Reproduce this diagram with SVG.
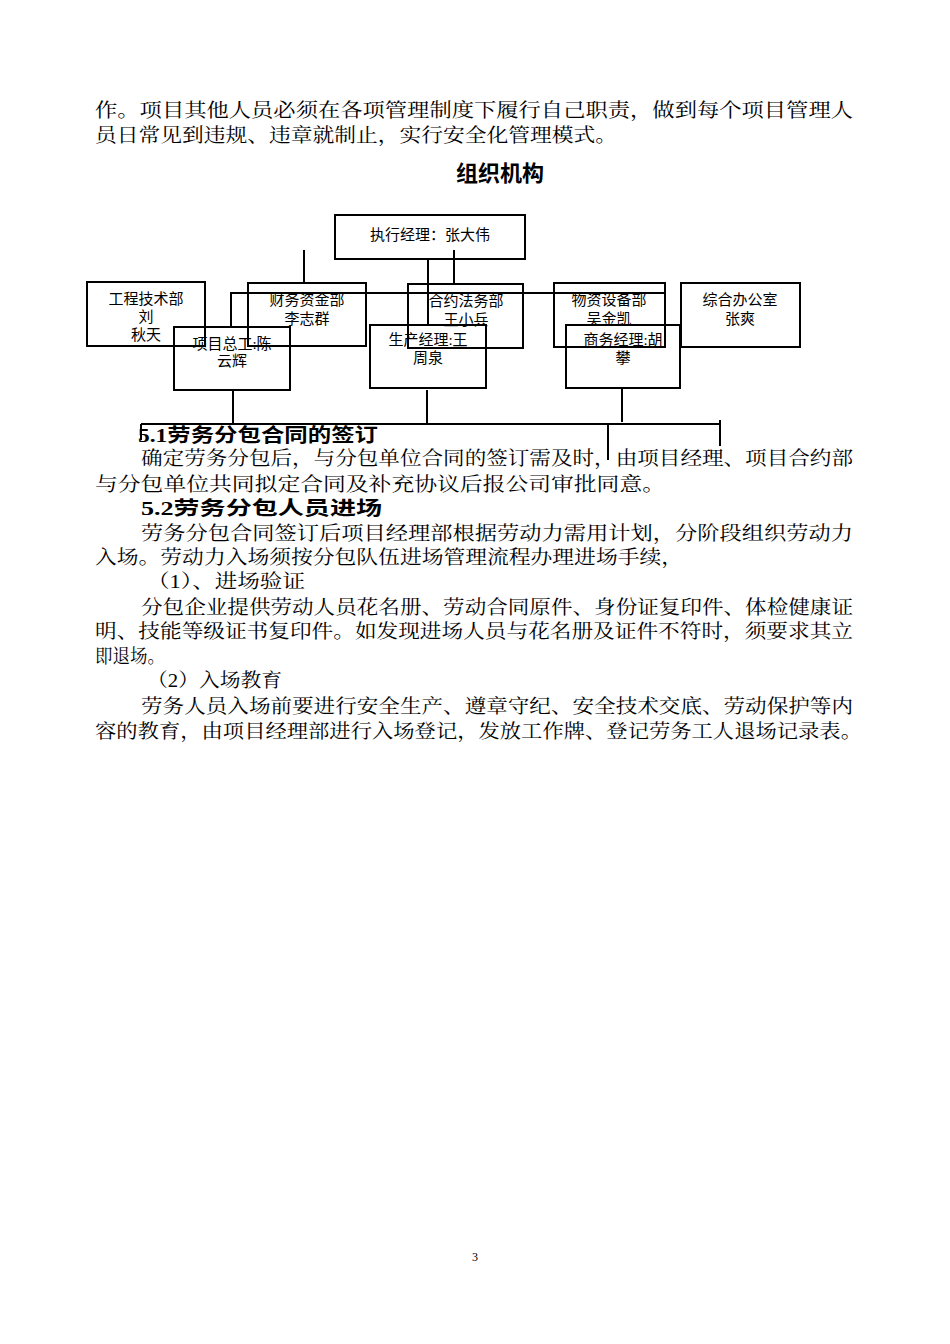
<svg xmlns="http://www.w3.org/2000/svg" width="950" height="1344" viewBox="0 0 950 1344">
<style>
.t{font-family:"Liberation Serif","Noto Serif CJK SC","Noto Sans CJK SC",serif;font-size:19px;fill:#000}
.h{font-family:"Liberation Serif","Noto Sans CJK SC",sans-serif;font-size:19px;font-weight:bold;fill:#000}
.n{font-family:"Liberation Serif","Noto Sans CJK SC",serif;font-size:15px;fill:#000;text-anchor:middle}
.b{fill:none;stroke:#000;stroke-width:2}
.c{stroke:#000;stroke-width:2;fill:none}
</style>
<rect width="950" height="1344" fill="#fff"/>
<text class="t" x="95" y="117" textLength="758" lengthAdjust="spacingAndGlyphs">作。项目其他人员必须在各项管理制度下履行自己职责，做到每个项目管理人</text>
<text class="t" x="95" y="142" textLength="522" lengthAdjust="spacingAndGlyphs">员日常见到违规、违章就制止，实行安全化管理模式。</text>
<text x="500" y="181" text-anchor="middle" style="font-family:'Noto Sans CJK SC',sans-serif;font-size:22px;font-weight:bold">组织机构</text>

<g id="connectors">
<line class="c" x1="304" y1="250" x2="304" y2="283"/>
<line class="c" x1="428" y1="259" x2="428" y2="325"/>
<line class="c" x1="454" y1="250" x2="454" y2="283"/>
<polyline class="c" points="231,327 231,293 665,293 665,347"/>
<line class="c" x1="233" y1="390" x2="233" y2="424"/>
<line class="c" x1="427" y1="390" x2="427" y2="424"/>
<line class="c" x1="622" y1="388" x2="622" y2="422"/>
<line class="c" x1="141" y1="424" x2="720" y2="424"/>
<line class="c" x1="141" y1="424" x2="141" y2="440"/>
<line class="c" x1="608" y1="424" x2="608" y2="460"/>
<line class="c" x1="720" y1="420" x2="720" y2="446"/>
</g>

<g id="n-top"><rect class="b" x="335" y="215" width="190" height="44"/><text class="n" x="430" y="240">执行经理：张大伟</text></g>
<g id="n-gcjs"><rect class="b" x="87" y="282" width="118" height="64"/><text class="n" x="146" y="304">工程技术部</text><text class="n" x="146" y="322">刘</text><text class="n" x="146" y="340">秋天</text></g>
<g id="n-cwzj"><rect class="b" x="248" y="283" width="118" height="63"/><text class="n" x="307" y="305">财务资金部</text><text class="n" x="307" y="324">李志群</text></g>
<g id="n-hyfw"><rect class="b" x="408" y="284" width="115" height="64"/><text class="n" x="466" y="306">合约法务部</text><text class="n" x="466" y="325">王小兵</text></g>
<g id="n-wzsb"><rect class="b" x="554" y="283" width="111" height="64"/><text class="n" x="609" y="305">物资设备部</text><text class="n" x="609" y="324">吴金凯</text></g>
<g id="n-zhbg"><rect class="b" x="681" y="283" width="119" height="64"/><text class="n" x="740" y="305">综合办公室</text><text class="n" x="740" y="324">张爽</text></g>
<g id="n-xmzg"><rect class="b" x="174" y="327" width="116" height="63"/><text class="n" x="232" y="349">项目总工:陈</text><text class="n" x="232" y="366">云辉</text></g>
<g id="n-scjl"><rect class="b" x="370" y="325" width="116" height="63"/><text class="n" x="428" y="345">生产经理:王</text><text class="n" x="428" y="363">周泉</text></g>
<g id="n-swjl"><rect class="b" x="566" y="325" width="114" height="63"/><text class="n" x="623" y="345">商务经理:胡</text><text class="n" x="623" y="363">攀</text></g>

<text class="h" x="138" y="442" textLength="240" lengthAdjust="spacingAndGlyphs">5.1劳务分包合同的签订</text>
<text class="t" x="141" y="465" textLength="712" lengthAdjust="spacingAndGlyphs">确定劳务分包后，与分包单位合同的签订需及时，由项目经理、项目合约部</text>
<text class="t" x="95" y="491" textLength="570" lengthAdjust="spacingAndGlyphs">与分包单位共同拟定合同及补充协议后报公司审批同意。</text>
<text class="h" x="141" y="515" textLength="241" lengthAdjust="spacingAndGlyphs">5.2劳务分包人员进场</text>
<text class="t" x="141" y="540" textLength="712" lengthAdjust="spacingAndGlyphs">劳务分包合同签订后项目经理部根据劳动力需用计划，分阶段组织劳动力</text>
<text class="t" x="95" y="564" textLength="588" lengthAdjust="spacingAndGlyphs">入场。劳动力入场须按分包队伍进场管理流程办理进场手续，</text>
<text class="t" x="147" y="588" textLength="158" lengthAdjust="spacingAndGlyphs">（1）、进场验证</text>
<text class="t" x="141" y="614" textLength="712" lengthAdjust="spacingAndGlyphs">分包企业提供劳动人员花名册、劳动合同原件、身份证复印件、体检健康证</text>
<text class="t" x="95" y="638" textLength="758" lengthAdjust="spacingAndGlyphs">明、技能等级证书复印件。如发现进场人员与花名册及证件不符时，须要求其立</text>
<text class="t" x="95" y="663" textLength="70" lengthAdjust="spacingAndGlyphs">即退场。</text>
<text class="t" x="147" y="687" textLength="135" lengthAdjust="spacingAndGlyphs">（2）入场教育</text>
<text class="t" x="141" y="713" textLength="712" lengthAdjust="spacingAndGlyphs">劳务人员入场前要进行安全生产、遵章守纪、安全技术交底、劳动保护等内</text>
<text class="t" x="95" y="738" textLength="767" lengthAdjust="spacingAndGlyphs">容的教育，由项目经理部进行入场登记，发放工作牌、登记劳务工人退场记录表。</text>
<text x="475" y="1261" text-anchor="middle" style="font-family:'Liberation Serif',serif;font-size:12px">3</text>
</svg>
